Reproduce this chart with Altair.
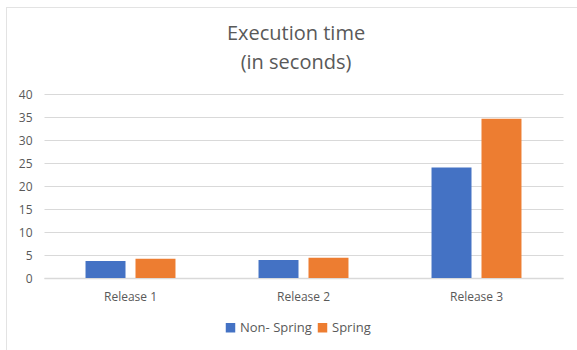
import altair as alt
import pandas as pd

releases = ["Release 1", "Release 2", "Release 3"]
series = ["Non- Spring", "Spring"]
non_spring = [3.7, 3.9, 24.0]
spring = [4.2, 4.4, 34.6]
y_ticks = [0, 5, 10, 15, 20, 25, 30, 35, 40]
colors = ["#4472C4", "#ED7D31"]

rows = []
for i, r in enumerate(releases):
    rows.append({"release": r, "series": series[0], "value": non_spring[i]})
    rows.append({"release": r, "series": series[1], "value": spring[i]})
df = pd.DataFrame(rows)

FONT = "Open Sans"
TXT = "#595959"
GRID = "#d9d9d9"

bars = alt.Chart(df).mark_bar().encode(
    x=alt.X("release:N", sort=releases,
            scale=alt.Scale(paddingInner=0.48, paddingOuter=0.24),
            axis=alt.Axis(title=None, labelAngle=0, ticks=False, domain=True,
                          domainColor=GRID, domainWidth=1.5, labelPadding=13,
                          labelFont=FONT, labelFontSize=12, labelColor=TXT,
                          grid=False)),
    xOffset=alt.XOffset("series:N", sort=series,
                        scale=alt.Scale(paddingInner=0.2, paddingOuter=0)),
    y=alt.Y("value:Q", scale=alt.Scale(domain=[0, 40], nice=False),
            axis=alt.Axis(title=None, values=y_ticks, ticks=False, domain=False,
                          gridColor=GRID, gridWidth=1, labelPadding=12,
                          labelFont=FONT, labelFontSize=12, labelColor=TXT)),
    color=alt.Color("series:N", sort=series,
                    scale=alt.Scale(domain=series, range=colors),
                    legend=alt.Legend(title=None, orient="none", direction="horizontal",
                                      legendX=180, legendY=227,
                                      symbolType="square", symbolSize=90,
                                      symbolStrokeWidth=0, labelFont=FONT,
                                      labelFontSize=13, labelColor=TXT,
                                      columnPadding=4, labelOffset=3)),
)

frame_df = pd.DataFrame({"a": [0]})
left_line = alt.Chart(frame_df).mark_rule(color="#e3e3e3", strokeWidth=1).encode(
    x=alt.value(-37.5), y=alt.value(-87), y2=alt.value(270))
top_line = alt.Chart(frame_df).mark_rule(color="#e3e3e3", strokeWidth=1).encode(
    x=alt.value(-37.5), x2=alt.value(540), y=alt.value(-86.5))

chart = alt.layer(left_line, top_line, bars).properties(
    width=519, height=184,
    autosize=alt.AutoSizeParams(type="none"),
    padding={"left": 44, "top": 94, "right": 14, "bottom": 72},
    title=alt.TitleParams(text=["Execution time", "(in seconds)"], font=FONT,
                          fontSize=20, fontWeight="normal", color=TXT,
                          anchor="middle", frame="group", dx=-7.5,
                          lineHeight=29, offset=0, dy=66),
).configure_view(stroke=None)

chart.save("out.html", embed_options={"renderer": "svg", "actions": False})
